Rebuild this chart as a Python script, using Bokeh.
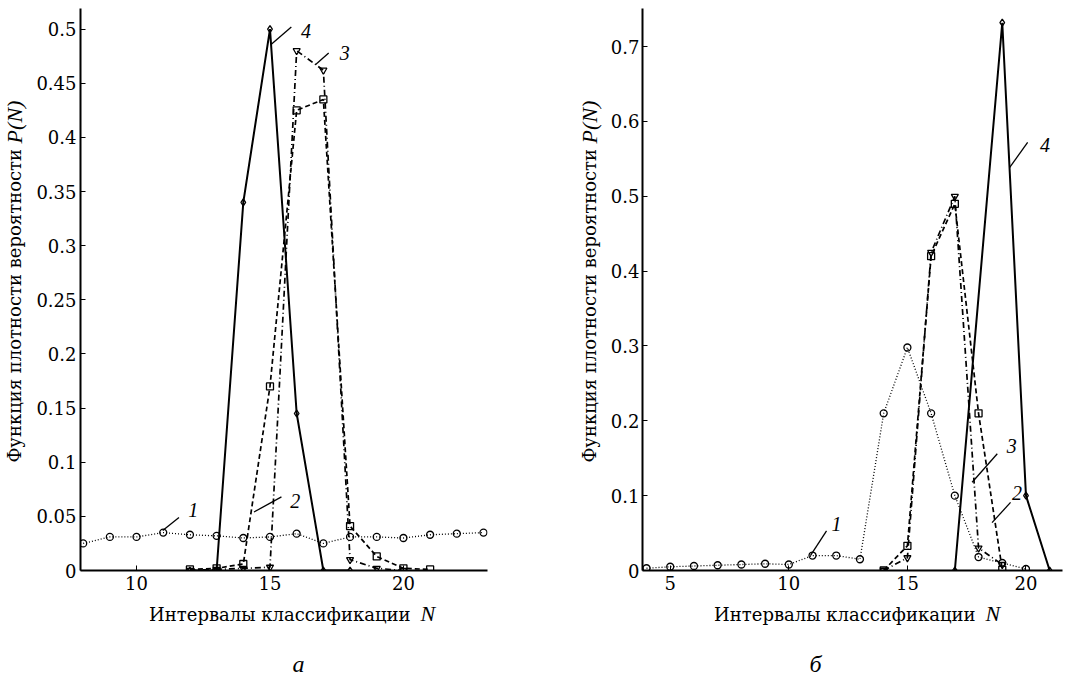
from math import pi

from bokeh.core.properties import value
from bokeh.embed import file_html
from bokeh.layouts import column, row
from bokeh.models import FixedTicker, NumeralTickFormatter, Range1d
from bokeh.plotting import figure
from bokeh.resources import INLINE

# ---------------- panel "а" ----------------
n1_a = [8, 9, 10, 11, 12, 13, 14, 15, 16, 17, 18, 19, 20, 21, 22, 23]
p1_a = [0.025, 0.031, 0.031, 0.035, 0.033, 0.032, 0.030, 0.031, 0.034, 0.025,
        0.031, 0.031, 0.030, 0.033, 0.034, 0.035]
n2_a = [12, 13, 14, 15, 16, 17, 18, 19, 20, 21]
p2_a = [0.001, 0.002, 0.006, 0.170, 0.425, 0.435, 0.041, 0.013, 0.002, 0.001]
n3_a = [12, 13, 14, 15, 16, 17, 18, 19, 20]
p3_a = [0.0, 0.001, 0.002, 0.003, 0.480, 0.462, 0.010, 0.002, 0.0]
n4_a = [12, 13, 14, 15, 16, 17, 18]
p4_a = [0.0, 0.0, 0.340, 0.500, 0.145, 0.0, 0.0]
xticks_a = [10, 15, 20]
yticks_a = [0, 0.05, 0.1, 0.15, 0.2, 0.25, 0.3, 0.35, 0.4, 0.45, 0.5]

# ---------------- panel "б" ----------------
n1_b = [4, 5, 6, 7, 8, 9, 10, 11, 12, 13, 14, 15, 16, 17, 18, 19, 20]
p1_b = [0.003, 0.005, 0.006, 0.007, 0.008, 0.009, 0.008, 0.020, 0.020, 0.015,
        0.210, 0.298, 0.210, 0.100, 0.018, 0.010, 0.002]
n2_b = [14, 15, 16, 17, 18, 19]
p2_b = [0.0, 0.033, 0.420, 0.490, 0.210, 0.001]
n3_b = [14, 15, 16, 17, 18, 19]
p3_b = [0.0, 0.017, 0.425, 0.500, 0.030, 0.008]
n4_b = [17, 19, 20, 21]
p4_b = [0.0, 0.732, 0.100, 0.0]
xticks_b = [5, 10, 15, 20]
yticks_b = [0, 0.1, 0.2, 0.3, 0.4, 0.5, 0.6, 0.7]

# curve numbers with their leader lines: (text, label x, label y, x0, y0, x1, y1)
notes_a = [("1", 12.12, 0.0555, 10.98, 0.037, 11.59, 0.049),
           ("2", 15.95, 0.064, 14.40, 0.054, 15.43, 0.068),
           ("3", 17.80, 0.478, 16.70, 0.467, 17.20, 0.478),
           ("4", 16.35, 0.498, 15.05, 0.486, 15.80, 0.502)]
notes_b = [("1", 12.01, 0.062, 10.91, 0.020, 11.59, 0.053),
           ("2", 19.62, 0.104, 18.57, 0.064, 19.35, 0.091),
           ("3", 19.40, 0.167, 17.73, 0.118, 18.79, 0.156),
           ("4", 20.80, 0.569, 19.30, 0.538, 20.07, 0.572)]

Y_TITLE = "Функция плотности вероятности"
Y_TITLE_VAR = "P(N)"
X_TITLE = "Интервалы классификации"
X_TITLE_VAR = "N"
CAPTIONS = ["а", "б"]

SERIF = "DejaVu Serif"          # upright text
SERIF_IT = "Liberation Serif"   # italic symbols and numbers
ROW_H = 600      # height of the row holding the two charts
STRIP_H = 78     # strip under the charts with axis titles and captions

STYLES = [
    # (dash, line width, marker, marker size)
    ("1 2", 1.3, "circle", 7),
    ("5 3", 1.7, "square", 7),
    ("6 3 1 3", 1.7, "inverted_triangle", 7),
    ("solid", 2.0, "diamond", 7),
]


def blank(width, height):
    """Axis-less canvas whose data units are pixels, used for free text."""
    p = figure(width=width, height=height, x_range=Range1d(0, width),
               y_range=Range1d(0, height), min_border=0,
               output_backend="svg", toolbar_location=None)
    p.axis.visible = False
    p.grid.visible = False
    p.outline_line_color = None
    p.background_fill_color = "white"
    p.border_fill_color = "white"
    return p


def y_title(width, x_center, y_break):
    p = blank(width, ROW_H)
    p.text(x=[x_center], y=[ROW_H - y_break], text=[Y_TITLE], angle=pi / 2,
           text_align="right", text_baseline="middle", text_font=value(SERIF),
           text_font_size="18px", text_color="black")
    p.text(x=[x_center], y=[ROW_H - y_break + 6], text=[Y_TITLE_VAR], angle=pi / 2,
           text_align="left", text_baseline="middle", text_font=value(SERIF_IT),
           text_font_style="italic", text_font_size="22px", text_color="black")
    return p


def make_panel(width, border_left, border_right, border_top, xr, yr,
               xticks, yticks, series, notes, y_standoff):
    p = figure(width=width, height=ROW_H, x_range=Range1d(*xr), y_range=Range1d(*yr),
               min_border_left=border_left, min_border_right=border_right,
               min_border_top=border_top, min_border_bottom=ROW_H - 570,
               output_backend="svg", toolbar_location=None)
    p.outline_line_color = None
    p.background_fill_color = "white"
    p.border_fill_color = "white"
    p.grid.visible = False

    for ax, ticks in ((p.xaxis, xticks), (p.yaxis, yticks)):
        ax.ticker = FixedTicker(ticks=ticks, minor_ticks=[])
        ax.axis_line_width = 2
        ax.axis_line_color = "black"
        ax.major_tick_in = 5
        ax.major_tick_out = 0
        ax.major_tick_line_width = 1
        ax.major_label_text_font = SERIF
        ax.major_label_text_font_size = "18px"
        ax.major_label_text_color = "black"
    p.yaxis.formatter = NumeralTickFormatter(format="0.[00]")
    p.yaxis.major_label_standoff = y_standoff
    p.xaxis.major_label_standoff = 5

    for (n, v), (dash, lw, marker, ms) in zip(series, STYLES):
        p.line(n, v, line_color="black", line_width=lw, line_dash=dash)
        p.scatter(n, v, marker=marker, size=ms, fill_alpha=0,
                  line_color="black", line_width=1.3)

    for txt, lx, ly, x0, y0, x1, y1 in notes:
        p.segment(x0=[x0], y0=[y0], x1=[x1], y1=[y1], line_color="black", line_width=1.3)
        p.text(x=[lx], y=[ly], text=[txt], text_font=value(SERIF_IT),
               text_font_style="italic", text_font_size="20px",
               text_align="center", text_baseline="middle", text_color="black")
    return p


ta = y_title(32, 14, 150)
pa = make_panel(508, 48, 53, 8, (7.9, 23.15), (0, 0.519), xticks_a, yticks_a,
                [(n1_a, p1_a), (n2_a, p2_a), (n3_a, p3_a), (n4_a, p4_a)], notes_a, 4)
tb = y_title(62, 49, 150)
pb = make_panel(467, 40, 7, 7, (3.83, 21.54), (0, 0.751), xticks_b, yticks_b,
                [(n1_b, p1_b), (n2_b, p2_b), (n3_b, p3_b), (n4_b, p4_b)], notes_b, 3)

# axis titles and panel captions under both charts
strip = blank(1069, STRIP_H)
title_y = 678 - 614
for x_end in (410, 975):
    strip.text(x=[x_end], y=[title_y], text=[X_TITLE], text_align="right",
               text_baseline="middle", text_font=value(SERIF),
               text_font_size="18px", text_color="black")
    strip.text(x=[x_end + 10], y=[title_y + 1], text=[X_TITLE_VAR], text_align="left",
               text_baseline="middle", text_font=value(SERIF_IT), text_font_style="italic",
               text_font_size="22px", text_color="black")
strip.text(x=[298, 815], y=[678 - 663] * 2, text=CAPTIONS, text_align="center",
           text_baseline="middle", text_font=value(SERIF_IT), text_font_style="italic",
           text_font_size="24px", text_color="black")

layout = column(row(ta, pa, tb, pb), strip)
open("out.html", "w").write(file_html(layout, INLINE))
